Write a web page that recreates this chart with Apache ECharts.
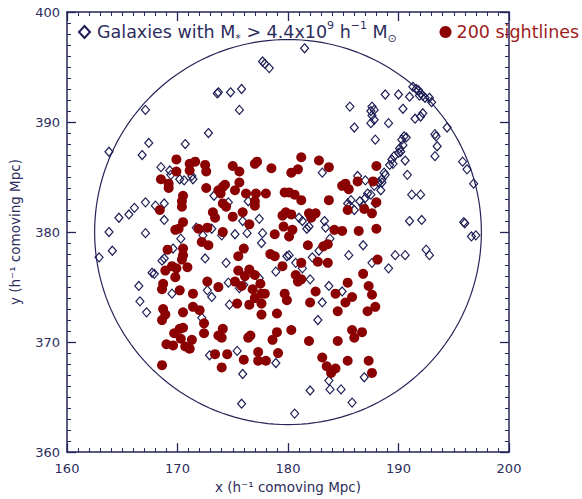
<!DOCTYPE html>
<html>
<head>
<meta charset="utf-8">
<script src="https://cdn.jsdelivr.net/npm/echarts@6/dist/echarts.min.js"></script>
<style>html,body{margin:0;padding:0;background:#fff;}#c{width:582px;height:499px;}</style>
</head>
<body>
<div id="c"></div>
<script>
// ---- data ----
var xTickValues = [160, 170, 180, 190, 200];
var yTickValues = [360, 370, 380, 390, 400];
var circleCenter = [180, 380];
var circleRadius = 17.5;

var sightlines = [
[169.9,386.6],[171.1,386.2],[171.6,386.4],[172.5,386.1],[171.1,385.6],[169.9,385.5],[172.6,385.5],[175.0,386.0],[177.0,386.2],[177.2,386.4],
[175.6,385.5],[178.5,385.8],[168.5,384.8],[169.2,384.4],[169.2,384.0],[172.6,384.0],[173.7,383.8],[174.1,384.1],[174.3,384.3],[173.9,383.5],
[175.2,383.8],[175.6,384.5],[176.2,383.5],[177.1,383.5],[178.0,383.5],[179.7,383.6],[170.4,382.8],[170.5,383.3],[170.4,382.3],[168.4,382.0],
[174.1,382.6],[174.4,382.3],[177.0,382.8],[177.0,382.4],[175.9,381.8],[173.2,381.8],[173.4,381.3],[175.0,381.4],[170.5,380.9],[179.5,381.5],
[181.2,386.8],[182.8,386.5],[180.3,385.4],[180.9,385.7],[183.7,385.9],[188.0,386.0],[185.2,384.4],[185.5,383.9],[186.3,384.6],[187.7,384.6],
[184.9,384.2],[180.1,383.6],[180.6,383.4],[181.2,382.9],[183.7,382.9],[188.0,382.7],[186.9,382.1],[187.6,381.7],[179.8,381.8],[180.3,381.6],
[181.9,381.7],[182.5,381.7],[182.1,381.3],[185.4,382.0],
[169.8,380.2],[170.1,380.3],[171.9,380.3],[172.7,380.4],[174.1,380.0],[176.5,380.7],[178.8,379.8],[179.6,380.5],[180.1,379.6],[172.2,379.1],
[172.8,378.8],[169.1,378.4],[170.5,378.5],[170.5,377.9],[170.4,377.5],[176.0,378.5],[175.5,377.8],[178.4,378.0],[178.8,377.8],[179.5,376.9],
[168.9,376.5],[169.5,376.9],[169.9,376.7],[170.9,376.8],[169.8,375.9],[175.5,376.5],[176.5,376.6],[176.1,376.0],[177.0,376.1],[175.2,375.5],
[175.8,375.1],[177.5,375.3],[168.7,375.3],[168.6,374.8],[172.7,375.5],[173.7,375.0],[170.2,374.7],[171.4,374.4],[176.8,374.8],[177.6,374.4],
[177.9,374.4],[179.7,374.4],[179.9,373.8],[177.0,374.0],[175.4,373.5],[176.5,373.4],[177.6,373.5],[168.7,373.0],[171.4,373.2],[172.0,372.9],
[170.5,372.7],[168.9,372.5],[168.6,372.0],[177.6,372.5],[179.0,372.6],[172.4,371.7],[170.2,371.2],[170.5,371.3],[169.7,370.8],[172.4,370.8],
[174.1,371.2],[173.7,370.6],[174.0,370.4],[176.4,370.4],[176.6,370.6],[179.0,370.9],[180.3,371.1],[170.3,370.3],[171.3,370.2],[169.0,369.8],
[169.6,369.7],[170.7,369.6],[171.1,369.4],[178.6,370.2],[173.4,368.9],[174.5,368.9],[177.3,369.1],[179.1,369.0],[176.0,368.4],[177.3,368.3],
[178.0,368.3],[174.0,367.7],[168.6,367.9],
[180.4,380.2],[184.2,380.2],[184.9,380.1],[186.4,380.1],[188.0,380.3],[181.8,378.8],[183.2,378.7],[183.6,378.9],[182.7,377.3],[183.6,377.2],
[181.2,377.2],[188.1,377.5],[180.7,376.1],[180.9,375.5],[181.2,375.7],[186.8,376.2],[185.4,375.4],[187.3,375.1],[182.5,374.6],[184.3,374.4],
[185.8,374.1],[187.6,374.3],[185.2,373.6],[182.0,373.6],[184.5,372.8],[187.2,372.8],[187.9,373.2],[185.8,371.1],[186.7,370.9],[186.0,370.4],
[181.9,370.1],[184.5,370.1],[183.1,368.6],[183.5,367.8],[184.3,367.6],[183.9,367.2],[185.4,368.3],[187.3,368.3],[187.6,367.2]
];

var galaxies = [
[177.7,395.5],[177.9,395.3],[178.3,394.9],[167.1,391.1],[173.6,392.6],[173.7,392.7],[174.8,392.7],[175.8,393.0],[175.6,391.1],[172.8,389.0],
[167.4,388.1],[166.8,387.0],[170.7,388.0],[163.8,387.3],[168.5,385.9],[169.3,385.6],[169.4,385.2],[170.2,384.8],[170.6,384.7],[171.3,385.1],
[171.4,384.8],[173.3,383.3],[174.6,382.7],[176.4,382.8],[167.1,382.7],[168.0,382.4],[168.8,382.6],[166.1,382.2],[165.6,381.6],[164.7,381.3],
[168.8,381.1],[175.9,381.0],[177.4,381.2],[171.7,380.4],
[163.8,380.0],[162.9,377.7],[164.1,378.3],[167.1,379.9],[170.3,379.4],[169.6,378.5],[172.3,379.7],[173.1,380.3],[174.0,379.7],[175.2,379.8],
[176.3,379.9],[177.7,379.9],[177.6,379.0],[180.1,377.9],[179.9,377.8],[168.8,377.6],[168.6,377.4],[172.5,377.6],[174.4,377.2],[167.7,376.3],
[167.9,376.2],[166.5,375.1],[166.6,373.7],[167.2,372.7],[169.5,374.4],[172.7,374.7],[173.1,374.1],[174.6,375.4],[175.6,374.9],[176.0,375.2],
[177.4,375.8],[178.9,376.4],[174.7,373.4],[172.2,372.2],[172.9,368.8],[175.4,369.2],[178.9,368.1],[175.9,367.1],[175.8,364.4],
[180.1,379.6],[181.9,380.5],[183.4,380.4],[181.7,380.3],[183.8,379.4],[186.8,378.8],[185.5,377.9],[182.8,378.3],[182.2,377.7],[180.7,377.2],
[181.3,376.7],[187.6,377.2],[189.1,376.7],[189.7,377.9],[190.6,377.9],[192.5,378.4],[192.8,377.9],[196.6,379.6],[197.0,379.7],[182.0,375.7],
[183.7,375.1],[184.9,374.6],[183.1,373.6],[182.7,372.0],[186.9,366.8],[183.7,366.5],[183.8,365.7],[184.8,365.7],[182.0,365.6],[185.8,364.5],
[180.6,363.5],
[181.5,396.7],[191.3,393.2],[191.6,393.0],[191.8,392.9],[192.0,392.6],[192.2,392.4],[192.4,392.2],[192.8,392.2],[193.0,391.8],[191.9,392.4],
[188.8,392.5],[190.0,392.5],[191.0,392.3],[190.4,391.2],[185.6,391.4],[187.6,391.4],[187.8,391.1],[187.5,391.0],[187.6,390.6],[187.8,390.2],
[187.5,389.9],[186.0,389.5],[189.1,389.9],[191.5,390.3],[192.0,390.5],[192.2,390.8],[194.4,389.5],[187.9,388.4],
[190.3,388.4],[190.5,388.7],[190.7,388.6],[190.4,387.9],[190.1,387.6],[190.2,387.3],[190.0,387.2],[189.6,386.9],[189.4,386.6],[189.5,386.2],
[189.2,386.1],[190.6,386.5],[188.7,385.4],[188.8,385.2],[188.5,384.8],[188.2,384.5],[188.5,384.5],[187.8,384.2],[187.0,384.7],[188.4,383.8],
[187.2,383.5],[187.5,383.4],[187.0,383.1],[187.9,382.6],[186.5,382.8],[186.8,382.4],[186.0,382.0],[185.7,382.9],[185.6,382.4],[185.4,382.6],
[193.4,388.7],[193.3,388.9],[193.5,387.8],[193.3,386.9],[195.8,386.4],[196.2,385.7],[196.8,384.4],[190.8,385.2],[191.2,383.4],[192.0,383.4],
[191.0,381.0],[192.1,381.1],[195.9,380.9],[196.0,380.8],[183.1,385.4],[186.3,385.1],[181.0,381.3],[181.3,381.0],[183.3,381.0]
];

// ---- styles ----
var NAVY = '#25255a';
var TEXT = '#2d2d5c';
var RED = '#8b0000';
var FONT = 'DejaVu Sans';

function makeAxis(kind, pos, ticks, showLabel) {
  return {
    type: 'value',
    position: pos,
    min: ticks[0],
    max: ticks[ticks.length - 1],
    interval: 10,
    axisLine: { show: true, lineStyle: { color: NAVY, width: 1.5 } },
    axisTick: { show: true, inside: true, length: 9, lineStyle: { color: NAVY, width: 1.3 } },
    minorTick: { show: true, splitNumber: 10, length: 4, lineStyle: { color: NAVY, width: 1 } },
    splitLine: { show: false },
    axisLabel: { show: showLabel, color: TEXT, fontFamily: FONT, fontSize: 13, margin: kind === 'x' ? 10 : 7 }
  };
}

var xBottom = makeAxis('x', 'bottom', xTickValues, true);
xBottom.name = 'x (h\u207B\u00B9 comoving Mpc)';
xBottom.nameLocation = 'middle';
xBottom.nameGap = 26;
xBottom.nameTextStyle = { color: TEXT, fontFamily: FONT, fontSize: 13.5 };
var xTop = makeAxis('x', 'top', xTickValues, false);
var yLeft = makeAxis('y', 'left', yTickValues, true);
yLeft.name = 'y (h\u207B\u00B9 comoving Mpc)';
yLeft.nameLocation = 'middle';
yLeft.nameGap = 45;
yLeft.nameTextStyle = { color: TEXT, fontFamily: FONT, fontSize: 13.5 };
var yRight = makeAxis('y', 'right', yTickValues, false);

var richSub = {
  sub: { fontSize: 11, lineHeight: 11, verticalAlign: 'bottom', fontFamily: FONT },
  sup: { fontSize: 11, lineHeight: 11, verticalAlign: 'top', fontFamily: FONT }
};

var chart = echarts.init(document.getElementById('c'), null, { renderer: 'svg' });
chart.setOption({
  animation: false,
  grid: { left: 65, right: 73, top: 12, bottom: 44 },
  xAxis: [xBottom, xTop],
  yAxis: [yLeft, yRight],
  legend: [
    {
      data: ['Galaxies'], left: 78, top: 20, itemWidth: 11, itemHeight: 12, itemGap: 0,
      selectedMode: false, padding: 0,
      formatter: function () { return 'Galaxies with M{sub|*} > 4.4x10{sup|9} h{sup|\u22121} M{sub|\u2299}'; },
      textStyle: { color: TEXT, fontFamily: FONT, fontSize: 17.5, lineHeight: 24, padding: [0, 0, 0, 2], rich: richSub }
    },
    {
      data: ['200 sightlines'], left: 439.5, top: 20, itemWidth: 12, itemHeight: 12, itemGap: 0,
      selectedMode: false, padding: 0,
      textStyle: { color: '#a01c1c', fontFamily: FONT, fontSize: 17.5, lineHeight: 24 }
    }
  ],
  series: [
    {
      type: 'custom', name: 'circle', xAxisIndex: 0, yAxisIndex: 0, silent: true, z: 1,
      data: [[circleCenter[0], circleCenter[1], circleRadius]],
      encode: { x: 0, y: 1 },
      renderItem: function (params, api) {
        var cx = api.value(0), cy = api.value(1), r = api.value(2);
        var pts = [];
        for (var a = 0; a <= 360; a += 2) {
          var t = a * Math.PI / 180;
          pts.push(api.coord([cx + r * Math.cos(t), cy + r * Math.sin(t)]));
        }
        return { type: 'polyline', shape: { points: pts }, style: { fill: null, stroke: NAVY, lineWidth: 1.2 } };
      }
    },
    {
      type: 'scatter', name: 'Galaxies', xAxisIndex: 0, yAxisIndex: 0, z: 2,
      symbol: 'diamond', symbolSize: [8, 9],
      itemStyle: { color: 'rgba(255,255,255,0)', borderColor: '#1e1e55', borderWidth: 1.2, opacity: 1 },
      data: galaxies
    },
    {
      type: 'scatter', name: '200 sightlines', xAxisIndex: 0, yAxisIndex: 0, z: 3,
      symbol: 'circle', symbolSize: 10,
      itemStyle: { color: RED, opacity: 1 },
      data: sightlines
    }
  ]
});
</script>
</body>
</html>
